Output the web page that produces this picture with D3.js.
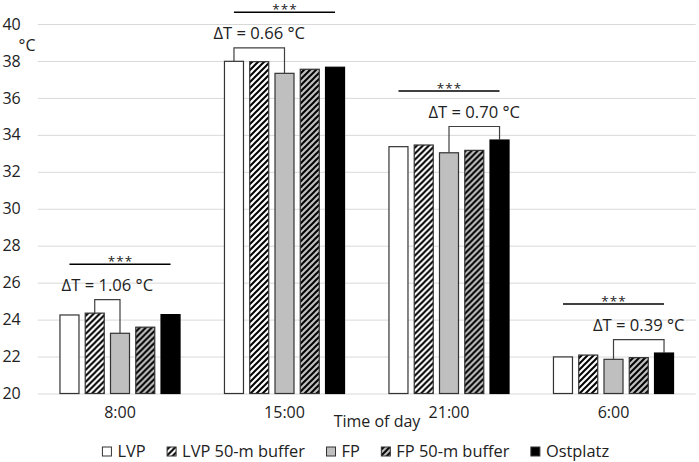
<!DOCTYPE html>
<html>
<head>
<meta charset="utf-8">
<script src="https://cdn.jsdelivr.net/npm/d3@7"></script>
<style>
  body { margin: 0; background: white; }
  text { font-family: "Open Sans", sans-serif; fill: #222; }
</style>
</head>
<body>
<div id="chart"></div>
<script>
// categories and series
const times = ['8:00', '15:00', '21:00', '6:00']
const seriesNames = ['LVP', 'LVP 50-m buffer', 'FP', 'FP 50-m buffer', 'Ostplatz']

// mean temperature (°C) per series, one value per time of day
const lvp = [24.25, 37.98, 33.36, 21.98]
const lvpBuffer = [24.35, 37.96, 33.45, 22.08]
const fp = [23.26, 37.33, 33.03, 21.85]
const fpBuffer = [23.59, 37.55, 33.16, 21.94]
const ostplatz = [24.27, 37.66, 33.72, 22.19]
const seriesValues = [lvp, lvpBuffer, fp, fpBuffer, ostplatz]

// annotations: compared series pair, delta label, significance label
const deltaPairs = [[1, 2], [0, 2], [2, 4], [2, 4]]
const deltaLabels = ['ΔT = 1.06 °C', 'ΔT = 0.66 °C', 'ΔT = 0.70 °C', 'ΔT = 0.39 °C']
const sigLabels = ['***', '***', '***', '***']

const yTicks = [20, 22, 24, 26, 28, 30, 32, 34, 36, 38, 40]

const width = 699, height = 462

const svg = d3.select('#chart').append('svg')
  .attr('width', width)
  .attr('height', height)
  .style('background', 'white')

// hatch patterns
const defs = svg.append('defs')
function hatch(id, bg) {
  const p = defs.append('pattern')
    .attr('id', id)
    .attr('patternUnits', 'userSpaceOnUse')
    .attr('width', 6)
    .attr('height', 6)
  p.append('rect').attr('width', 6).attr('height', 6).attr('fill', bg)
  p.append('path')
    .attr('d', 'M-1,1 l2,-2 M0,6 l6,-6 M5,7 l2,-2')
    .attr('stroke', '#000')
    .attr('stroke-width', 2)
}
hatch('hatchWhite', '#fff')
hatch('hatchGray', '#bfbfbf')

const fills = ['#fff', 'url(#hatchWhite)', '#bfbfbf', 'url(#hatchGray)', '#000']

const x0 = d3.scaleBand()
  .domain(times)
  .range([37.75, 695.75])
  .paddingInner(0.264)
  .paddingOuter(0.132)

const x1 = d3.scaleBand()
  .domain(d3.range(seriesNames.length))
  .range([0, x0.bandwidth()])
  .paddingInner(0.208)

const y = d3.scaleLinear()
  .domain([20, 40])
  .range([393.5, 24])

// gridlines + y labels
const yAxis = d3.axisLeft(y)
  .tickValues(yTicks)
  .tickSize(-(695.75 - 37.75))
  .tickPadding(17)
  .tickFormat(d3.format('d'))

const gy = svg.append('g')
  .attr('transform', 'translate(37.75,0)')
  .call(yAxis)
gy.select('.domain').remove()
gy.selectAll('.tick line').attr('stroke', '#d9d9d9').attr('stroke-width', 1)
gy.selectAll('.tick text')
  .attr('font-size', 16)
  .attr('fill', '#222')
  .style('font-family', '"Open Sans", sans-serif')

svg.append('text')
  .attr('x', 27)
  .attr('y', 51)
  .attr('text-anchor', 'middle')
  .attr('font-size', 16)
  .text('°C')

// bars
const groups = svg.selectAll('g.group')
  .data(times)
  .enter()
  .append('g')
  .attr('class', 'group')
  .attr('transform', d => `translate(${x0(d)},0)`)

groups.selectAll('rect')
  .data((d, i) => seriesValues.map((s, k) => ({ k: k, v: s[i] })))
  .enter()
  .append('rect')
  .attr('x', d => x1(d.k) + 0.5)
  .attr('y', d => y(d.v))
  .attr('width', x1.bandwidth() - 1)
  .attr('height', d => y(20) - y(d.v))
  .attr('fill', d => fills[d.k])
  .attr('stroke', d => d.k === 4 ? '#000' : '#333')
  .attr('stroke-width', 1.2)

// category labels
svg.append('g').selectAll('text')
  .data(times)
  .enter()
  .append('text')
  .attr('x', d => x0(d) + x0.bandwidth() / 2)
  .attr('y', 418)
  .attr('text-anchor', 'middle')
  .attr('font-size', 16)
  .text(d => d)

svg.append('text')
  .attr('x', 377)
  .attr('y', 427)
  .attr('text-anchor', 'middle')
  .attr('font-size', 16)
  .text('Time of day')

// annotations
times.forEach((t, i) => {
  const cx = k => x0(t) + x1(k) + x1.bandwidth() / 2
  const a = deltaPairs[i][0], b = deltaPairs[i][1]
  const top = y(Math.max(seriesValues[a][i], seriesValues[b][i])) - 13.5
  const g = svg.append('g')

  g.append('path')
    .attr('d', `M${cx(a)},${y(seriesValues[a][i])}V${top}H${cx(b)}V${y(seriesValues[b][i])}`)
    .attr('fill', 'none')
    .attr('stroke', '#404040')
    .attr('stroke-width', 1.2)

  g.append('text')
    .attr('x', (cx(a) + cx(b)) / 2)
    .attr('y', top - 9)
    .attr('text-anchor', 'middle')
    .attr('font-size', 16.6)
    .text(deltaLabels[i])

  const groupMax = d3.max(seriesValues, s => s[i])
  const lineY = y(groupMax) - 49
  g.append('line')
    .attr('x1', cx(0))
    .attr('x2', cx(seriesNames.length - 1))
    .attr('y1', lineY)
    .attr('y2', lineY)
    .attr('stroke', '#000')
    .attr('stroke-width', 1.5)

  g.append('text')
    .attr('x', x0(t) + x0.bandwidth() / 2 + 0.5)
    .attr('y', lineY + 1.6)
    .attr('text-anchor', 'middle')
    .attr('font-size', 13.5)
    .attr('letter-spacing', 1)
    .text(sigLabels[i])
})

// legend
const legend = svg.append('g')
let lx = 0
seriesNames.forEach((name, k) => {
  const it = legend.append('g')
  it.append('rect')
    .attr('x', 0.5)
    .attr('y', 447)
    .attr('width', 9)
    .attr('height', 9)
    .attr('fill', fills[k])
    .attr('stroke', '#333')
    .attr('stroke-width', 1)
  const txt = it.append('text')
    .attr('x', 15.5)
    .attr('y', 456.5)
    .attr('font-size', 16.4)
    .text(name)
  it.attr('transform', `translate(${lx},0)`)
  lx += 15.5 + txt.node().getComputedTextLength() + 21
})
const legendWidth = lx - 21
legend.attr('transform', `translate(${355.5 - legendWidth / 2},0)`)
</script>
</body>
</html>
